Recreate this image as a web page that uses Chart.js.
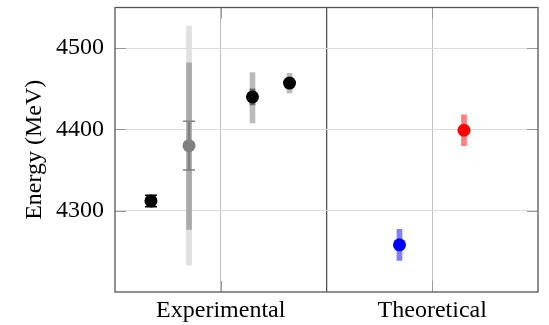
<!DOCTYPE html>
<html>
<head>
<meta charset="utf-8">
<script src="https://cdn.jsdelivr.net/npm/chart.js@4/dist/chart.umd.min.js"></script>
<style>
  html, body { margin: 0; padding: 0; background: #fff; }
  #wrap { width: 549px; height: 325px; }
</style>
</head>
<body>
<div id="wrap"><canvas id="graphCanvas"></canvas></div>
<script>
/* ===============================
   DATA
   =============================== */
const categories = ["Experimental", "Theoretical"];
const yTicks = [4300, 4400, 4500];

// x position of each point (category i sits at 2*i + 1)
const pointX = [0.34, 0.70, 1.30, 1.65, 2.69, 3.30];
const energy = [4312, 4380, 4440, 4457, 4258, 4399];

// error bars as [minus, plus], null when absent
const errCapped = [[7, 7], [30, 30], null, null, null, null];
const errInner = [null, [103, 102], [10, 10], null, null, null];
const errOuter = [null, [147, 147], [32, 30], [12, 12], [19, 19], [19, 19]];

/* ===============================
   STYLES
   =============================== */
const FONT = "'Liberation Serif', 'Times New Roman', serif";
const pointColors = ["#000", "#808080", "#000", "#000", "#0000ff", "#ff0000"];
const capColors = ["#000", "#808080", null, null, null, null];
const innerColors = [null, "#aaaaaa", "#666666", null, null, null];
const outerColors = [null, "#e0e0e0", "#bbbbbb", "#bbbbbb", "#8080ff", "#ff8080"];

function bars(errs, colors) {
  const data = [], bg = [];
  errs.forEach((e, i) => {
    if (!e) return;
    data.push({ x: pointX[i], y: [energy[i] - e[0], energy[i] + e[1]] });
    bg.push(colors[i]);
  });
  return { data, bg };
}

const outer = bars(errOuter, outerColors);
const inner = bars(errInner, innerColors);
const capped = bars(errCapped, capColors);

const capPoints = [], capCols = [];
errCapped.forEach((e, i) => {
  if (!e) return;
  capPoints.push({ x: pointX[i], y: energy[i] - e[0] });
  capPoints.push({ x: pointX[i], y: energy[i] + e[1] });
  capCols.push(capColors[i], capColors[i]);
});

/* ===============================
   FRAME + INNER TICKS
   =============================== */
const framePlugin = {
  id: "frame",
  afterDatasetsDraw(c) {
    const { ctx, chartArea: a, scales } = c;
    ctx.save();
    ctx.strokeStyle = "#999";
    ctx.lineWidth = 1;
    ctx.beginPath();
    yTicks.forEach(v => {
      const py = Math.round(scales.y.getPixelForValue(v)) + 0.5;
      ctx.moveTo(a.left, py); ctx.lineTo(a.left + 11, py);
      ctx.moveTo(a.right, py); ctx.lineTo(a.right - 11, py);
    });
    [1, 3].forEach(v => {
      const px = Math.round(scales.x.getPixelForValue(v)) + 0.5;
      ctx.moveTo(px, a.top); ctx.lineTo(px, a.top + 11);
      ctx.moveTo(px, a.bottom); ctx.lineTo(px, a.bottom - 11);
    });
    ctx.stroke();
    ctx.strokeStyle = "#555";
    ctx.lineWidth = 1.3;
    ctx.strokeRect(a.left, a.top, a.right - a.left, a.bottom - a.top);
    ctx.restore();
  }
};

function noPad(s) {
  s.paddingTop = 0; s.paddingBottom = 0;
  s.paddingLeft = 0; s.paddingRight = 0;
}

/* ===============================
   CHART
   =============================== */
const barBase = { type: "bar", grouped: false, borderWidth: 0 };

new Chart(graphCanvas, {
  type: "scatter",
  data: {
    datasets: [
      {
        type: "scatter",
        data: pointX.map((x, i) => ({ x, y: energy[i] })),
        backgroundColor: pointColors,
        pointRadius: 6.5,
        pointHoverRadius: 6.5,
        borderWidth: 0,
        order: 0
      },
      {
        type: "scatter",
        data: capPoints,
        pointStyle: "line",
        borderColor: capCols,
        borderWidth: 1.5,
        pointRadius: 6,
        order: 1
      },
      { ...barBase, data: capped.data, backgroundColor: capped.bg, barThickness: 2, order: 2 },
      { ...barBase, data: inner.data, backgroundColor: inner.bg, barThickness: 5, order: 3 },
      { ...barBase, data: outer.data, backgroundColor: outer.bg, barThickness: 5, order: 4 }
    ]
  },
  options: {
    responsive: true,
    maintainAspectRatio: false,
    animation: false,
    layout: { padding: { top: 3, right: 11, bottom: 0, left: 0 } },
    plugins: { legend: { display: false }, tooltip: { enabled: false } },
    scales: {
      x: {
        type: "linear",
        min: 0,
        max: 4,
        offset: false,
        border: { display: false },
        afterBuildTicks: s => { s.ticks = [1, 2, 3].map(v => ({ value: v })); },
        afterFit: s => { s.height = 33; noPad(s); },
        grid: {
          offset: false,
          drawTicks: false,
          color: ctx => (ctx.tick && ctx.tick.value === 2 ? "#555" : "#c0c0c0"),
          lineWidth: ctx => (ctx.tick && ctx.tick.value === 2 ? 1.3 : 1)
        },
        ticks: {
          padding: 4,
          maxRotation: 0,
          autoSkip: false,
          color: "#000",
          font: { family: FONT, size: 24 },
          callback: v => (v % 2 === 1 ? categories[(v - 1) / 2] : "")
        }
      },
      y: {
        type: "linear",
        min: 4200,
        max: 4550,
        beginAtZero: false,
        border: { display: false },
        afterBuildTicks: s => { s.ticks = yTicks.map(v => ({ value: v })); },
        afterFit: s => { s.width = 115; noPad(s); },
        grid: { drawTicks: false, color: "#dcdcdc" },
        ticks: {
          padding: 11,
          color: "#000",
          font: { family: FONT, size: 24 },
          callback: v => String(v)
        },
        title: {
          display: true,
          text: "Energy (MeV)",
          color: "#000",
          padding: { top: 20, bottom: 0 },
          font: { family: FONT, size: 24 }
        }
      }
    }
  },
  plugins: [framePlugin]
});
</script>
</body>
</html>
